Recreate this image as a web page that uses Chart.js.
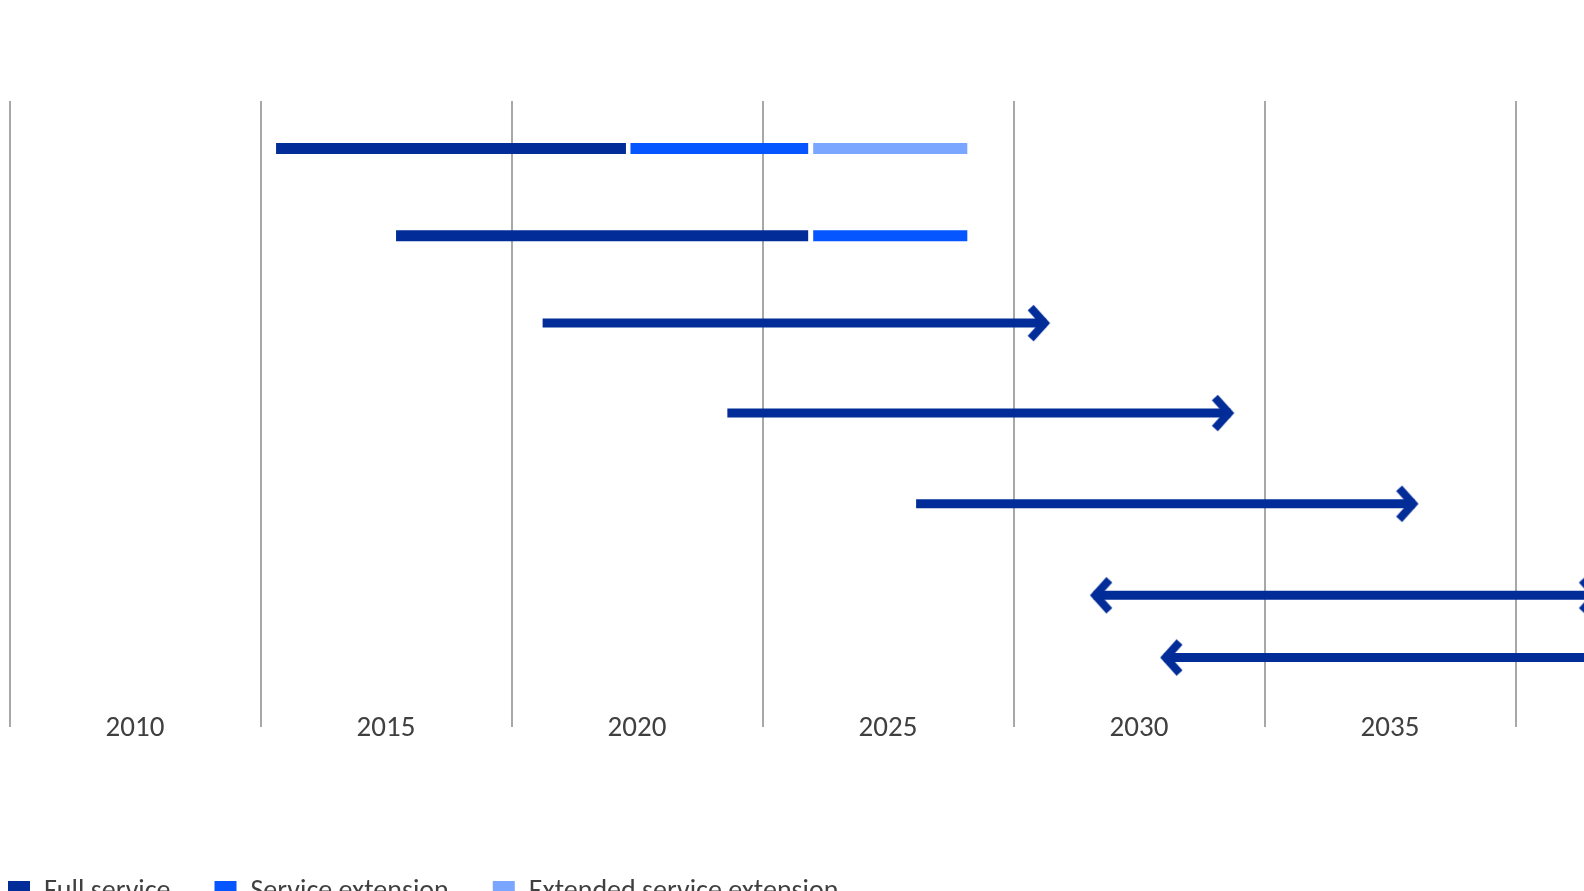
<!DOCTYPE html>
<html><head><meta charset="utf-8">
<script src="https://cdn.jsdelivr.net/npm/chart.js@4.4.1/dist/chart.umd.min.js"></script>
<style>
html,body{margin:0;padding:0;background:#fff;overflow:hidden;width:1584px;height:891px;}
#wrap{position:absolute;left:0;top:0;width:1800px;height:919px;}
canvas{display:block;}
</style></head><body>
<div id="wrap"><canvas id="c" width="1800" height="919"></canvas></div>
<script>
// ---- axis ----
const tickYears  = [2010, 2015, 2020, 2025, 2030, 2035, 2040];
const tickLabels = ['2010', '2015', '2020', '2025', '2030', '2035', '2040'];
const gridYears  = [2007.5, 2012.5, 2017.5, 2022.5, 2027.5, 2032.5, 2037.5, 2042.5];

// ---- legend ----
const legendLabels = ['Full service', 'Service extension', 'Extended service extension'];

// ---- rows (vertical level of each timeline) ----
const rowLevel = [6.45, 5.44, 4.43, 3.39, 2.34, 1.28, 0.56];

// Full service period (years)
const fullStart = [2012.81, 2015.20, 2018.12, 2021.80, 2025.56, 2029.10, 2030.50];
const fullEnd   = [2019.78, 2023.41, 2028.15, 2031.82, 2035.49, 2039.13, 2041.00];
// arrow heads on the full service line: none / right / left / both
const fullArrow = ['none', 'none', 'right', 'right', 'right', 'both', 'left'];

// Service extension period (years)
const extStart = [2019.87, 2023.51, null, null, null, null, null];
const extEnd   = [2023.41, 2026.58, null, null, null, null, null];

// Extended service extension period (years)
const xextStart = [2023.51, null, null, null, null, null, null];
const xextEnd   = [2026.58, null, null, null, null, null, null];

const COLORS = ['#022c98', '#0556ff', '#7ba6ff'];
const GRID = '#a8a8a8';
const TEXT = '#404040';
const FONT = "Carlito, 'Roboto Condensed', sans-serif";

// open chevron used as the arrow-head point style
function chevron(color) {
  const L = 28, H = 48;
  const c = document.createElement('canvas');
  c.width = 2 * L; c.height = H;
  const g = c.getContext('2d');
  const ax = L - 1.5, cy = H / 2;
  g.strokeStyle = color;
  g.lineWidth = 8;
  g.lineJoin = 'miter';
  g.lineCap = 'butt';
  g.beginPath();
  g.moveTo(ax - 14, cy - 15.5);
  g.lineTo(ax, cy);
  g.lineTo(ax - 14, cy + 15.5);
  g.stroke();
  return c;
}
const head = chevron(COLORS[0]);

function segment(s, e, y, color, width, heads) {
  const startHead = heads === 'left' || heads === 'both';
  const endHead = heads === 'right' || heads === 'both';
  return {
    data: [{x: s, y: y}, {x: e, y: y}],
    borderColor: color,
    backgroundColor: color,
    borderWidth: width,
    borderCapStyle: 'butt',
    fill: false,
    pointStyle: head,
    pointRadius: [startHead ? 6 : 0, endHead ? 6 : 0],
    pointRotation: [180, 0],
    pointHoverRadius: 0
  };
}

const datasets = [];
for (let i = 0; i < rowLevel.length; i++) {
  const arrowed = fullArrow[i] !== 'none';
  datasets.push(segment(fullStart[i], fullEnd[i], rowLevel[i], COLORS[0], arrowed ? 9 : 11, fullArrow[i]));
  if (extStart[i] !== null) datasets.push(segment(extStart[i], extEnd[i], rowLevel[i], COLORS[1], 11, 'none'));
  if (xextStart[i] !== null) datasets.push(segment(xextStart[i], xextEnd[i], rowLevel[i], COLORS[2], 11, 'none'));
}

new Chart(document.getElementById('c'), {
  type: 'line',
  data: {datasets},
  options: {
    responsive: false,
    animation: false,
    events: [],
    layout: {autoPadding: false, padding: {left: -36, top: 101, right: 33.5, bottom: 3}},
    plugins: {
      tooltip: {enabled: false},
      legend: {
        position: 'bottom',
        align: 'start',
        labels: {
          boxWidth: 22, boxHeight: 22, padding: 44,
          color: TEXT,
          font: {family: FONT, size: 28},
          generateLabels: () => legendLabels.map((t, i) => ({
            text: t, fillStyle: COLORS[i], strokeStyle: COLORS[i], lineWidth: 0,
            hidden: false, datasetIndex: i, fontColor: TEXT
          }))
        }
      }
    },
    scales: {
      x: {
        type: 'linear',
        min: gridYears[0],
        max: gridYears[gridYears.length - 1],
        border: {display: false},
        grid: {
          drawTicks: true,
          tickLength: 21,
          lineWidth: 2,
          color: (ctx) => (ctx.tick && gridYears.includes(ctx.tick.value)) ? GRID : 'rgba(0,0,0,0)'
        },
        ticks: {
          autoSkip: false, maxRotation: 0, minRotation: 0,
          padding: -15.9,
          color: TEXT,
          font: {family: FONT, size: 29},
          callback: (v) => { const k = tickYears.indexOf(v); return k >= 0 ? tickLabels[k] : ''; }
        },
        afterBuildTicks: (s) => {
          s.ticks = gridYears.concat(tickYears).sort((a, b) => a - b).map(v => ({value: v}));
        },
        afterFit: (s) => { s.height = 128; s.paddingLeft = 0; s.paddingRight = 0; }
      },
      y: {
        type: 'linear', min: 0, max: 7,
        grid: {display: false}, border: {display: false}, ticks: {display: false},
        afterFit: (s) => { s.width = 45.5; }
      }
    }
  }
});
</script>
</body></html>
